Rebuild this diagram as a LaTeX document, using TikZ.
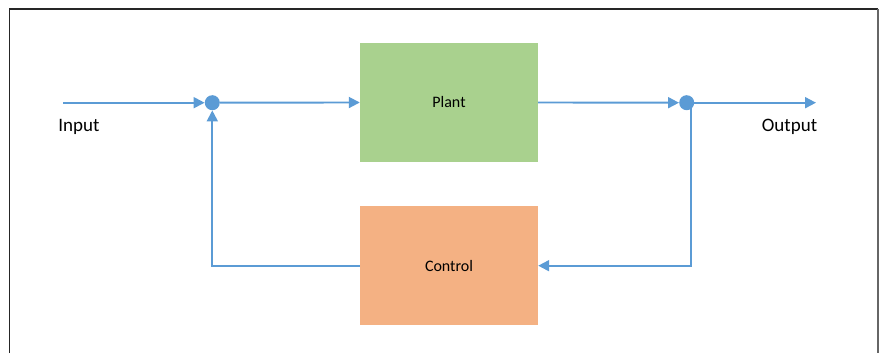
\documentclass[tikz,border=0pt]{standalone}
\usepackage{fontspec}
\setmainfont{Carlito}
\usetikzlibrary{arrows.meta}
\definecolor{lineblue}{HTML}{5B9BD5}
\definecolor{plantgreen}{HTML}{A9D18E}
\definecolor{ctrlorange}{HTML}{F4B183}
\tikzset{
  blk/.style={draw=none, minimum width=178pt, minimum height=119pt, inner sep=0pt, font=\fontsize{16}{18}\selectfont},
  junc/.style={circle, fill=lineblue, draw=none, minimum size=15pt, inner sep=0pt},
  wire/.style={draw=lineblue, line width=1.9pt},
  arr/.style={wire, -{Triangle[length=11pt,width=11pt]}},
  lbl/.style={font=\fontsize{19}{21}\selectfont, inner sep=0pt, anchor=base}
}
\begin{document}
\begin{tikzpicture}[x=1pt,y=-1pt]
\useasboundingbox (0,0) rectangle (882,353);
% frame
\draw[black!85, line width=1.6pt] (9.5,353) -- (9.5,9) -- (878,9);
\draw[gray!80!black, line width=2.2pt] (878,9) -- (878,353);
% blocks
\node[blk, fill=plantgreen] (plant) at (449,102.5) {Plant};
\node[blk, fill=ctrlorange] (ctrl) at (449,265.7) {Control};
% junctions
\node[junc] (j1) at (212.3,102.7) {};
\node[junc] (j2) at (686.7,102.7) {};
\coordinate (in) at (63,102.7);
\coordinate (out) at (816,102.7);
\coordinate (rc) at (691,265.7);
\coordinate (lc) at (212.3,265.7);
% connectors
\draw[arr] (in) -- (j1.west);
\draw[arr] (j1) -- (plant.west);
\draw[arr] (plant.east) -- (j2.west);
\draw[arr] (j2) -- (out);
\draw[arr] (j2.center -| rc) -- (rc) -- (ctrl.east);
\draw[arr] (ctrl.west) -- (lc) -- (j1.south);
% labels
\node[lbl] (inl) at (79,131.7) {Input};
\node[lbl] (outl) at (789.5,131.7) {Output};
\end{tikzpicture}
\end{document}
